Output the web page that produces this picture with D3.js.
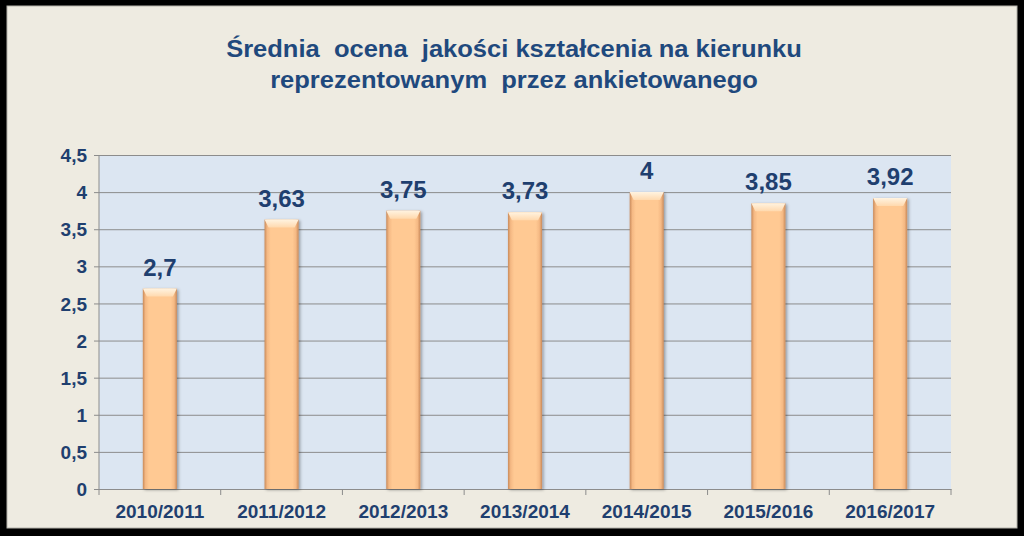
<!DOCTYPE html>
<html><head><meta charset="utf-8">
<script src="https://cdn.jsdelivr.net/npm/d3@7"></script>
<style>
html,body{margin:0;padding:0;background:#000;}
svg{display:block;}
text{font-family:"Liberation Sans",Arial,sans-serif;font-weight:bold;}
</style></head>
<body>
<script>
const categories = ["2010/2011","2011/2012","2012/2013","2013/2014","2014/2015","2015/2016","2016/2017"];
const values = [2.7, 3.63, 3.75, 3.73, 4, 3.85, 3.92];
const valueLabels = ["2,7","3,63","3,75","3,73","4","3,85","3,92"];
const yTicks = [0,0.5,1,1.5,2,2.5,3,3.5,4,4.5];
const titleLines = ["Średnia  ocena  jakości kształcenia na kierunku","reprezentowanym  przez ankietowanego"];

(function(){
const W=1024,H=536;
const svg=d3.select("body").append("svg").attr("width",W).attr("height",H);
const defs=svg.append("defs");
const g1=defs.append("linearGradient").attr("id","barG").attr("x1","0").attr("x2","1").attr("y1","0").attr("y2","0");
[["0%","#C98A5A"],["8%","#F5B984"],["18%","#FFC993"],["82%","#FFC993"],["92%","#F5B984"],["100%","#C98A5A"]].forEach(s=>g1.append("stop").attr("offset",s[0]).attr("stop-color",s[1]));
const g2=defs.append("linearGradient").attr("id","capG").attr("x1","0").attr("x2","0").attr("y1","0").attr("y2","1");
[["0%","#FFF3E0"],["100%","#FFD9AE"]].forEach(s=>g2.append("stop").attr("offset",s[0]).attr("stop-color",s[1]));
const sh=defs.append("filter").attr("id","sh").attr("x","-30%").attr("y","-10%").attr("width","160%").attr("height","120%");
sh.append("feDropShadow").attr("dx",1.5).attr("dy",1).attr("stdDeviation",1.5).attr("flood-color","#000").attr("flood-opacity",0.35);

svg.append("rect").attr("x",0).attr("y",0).attr("width",W).attr("height",H).attr("fill","#000");
svg.append("rect").attr("x",7).attr("y",6).attr("width",1010).attr("height",522).attr("fill","#EEEBE1").attr("stroke","#b5b3ab").attr("stroke-width",1);

const title=svg.append("text").attr("text-anchor","middle").attr("fill","#1F497D").attr("font-size",23).style("white-space","pre")
  .attr("transform","translate(514,0) scale(1.11,1)");
titleLines.forEach((t,i)=>title.append("tspan").attr("x",0).attr("y",57+i*31).text(t));

const pL=99,pR=951,pT=155,pB=489;
const x=d3.scaleBand().domain(categories).range([pL,pR]).paddingInner(0).paddingOuter(0);
const y=d3.scaleLinear().domain([0,4.5]).range([pB,pT]);

svg.append("rect").attr("x",pL).attr("y",pT).attr("width",pR-pL).attr("height",pB-pT).attr("fill","#DCE6F2");

const yAxis=d3.axisLeft(y).tickValues(yTicks).tickSize(pR-pL+5).tickFormat(d=>String(d).replace(".",","));
const ya=svg.append("g").attr("transform",`translate(${pR},0)`).call(yAxis);
ya.select(".domain").remove();
ya.selectAll(".tick line").attr("stroke","#8C8C8C").attr("stroke-width",1);
ya.selectAll(".tick text").attr("x",-(pR-pL)-12).attr("fill","#1F3F6F").attr("font-size",19).attr("font-family","Liberation Sans, Arial, sans-serif").attr("font-weight","bold").attr("dy","0.35em");
svg.append("line").attr("x1",pL).attr("x2",pL).attr("y1",pT).attr("y2",pB).attr("stroke","#8C8C8C");

const xa=svg.append("g").attr("transform",`translate(0,${pB})`).call(d3.axisBottom(x).tickSize(0).tickPadding(0));
xa.select(".domain").attr("stroke","#8C8C8C");
xa.selectAll(".tick text").attr("y",29).attr("dy",0).attr("fill","#1F3F6F").attr("font-size",19).attr("font-family","Liberation Sans, Arial, sans-serif").attr("font-weight","bold");
const bounds=categories.map(c=>x(c)).concat([pR]);
svg.append("g").selectAll("line").data(bounds).join("line").attr("x1",d=>d).attr("x2",d=>d).attr("y1",pB).attr("y2",pB+6).attr("stroke","#8C8C8C");

const bw=x.bandwidth()*0.28;
const bars=svg.append("g").selectAll("g").data(values).join("g");
bars.append("rect").attr("x",(d,i)=>x(categories[i])+x.bandwidth()/2-bw/2).attr("y",d=>y(d)).attr("width",bw).attr("height",d=>pB-y(d)).attr("fill","url(#barG)").attr("filter","url(#sh)");
bars.append("path").attr("d",(d,i)=>{const x0=x(categories[i])+x.bandwidth()/2-bw/2, y0=y(d);return `M${x0},${y0}L${x0+bw},${y0}L${x0+bw-4},${y0+8}L${x0+4},${y0+8}Z`;}).attr("fill","url(#capG)");
bars.append("text").attr("x",(d,i)=>x(categories[i])+x.bandwidth()/2).attr("y",d=>y(d)-13).attr("text-anchor","middle").attr("fill","#1F3F6F").attr("font-size",24).text((d,i)=>valueLabels[i]);
})();
</script>
</body></html>
